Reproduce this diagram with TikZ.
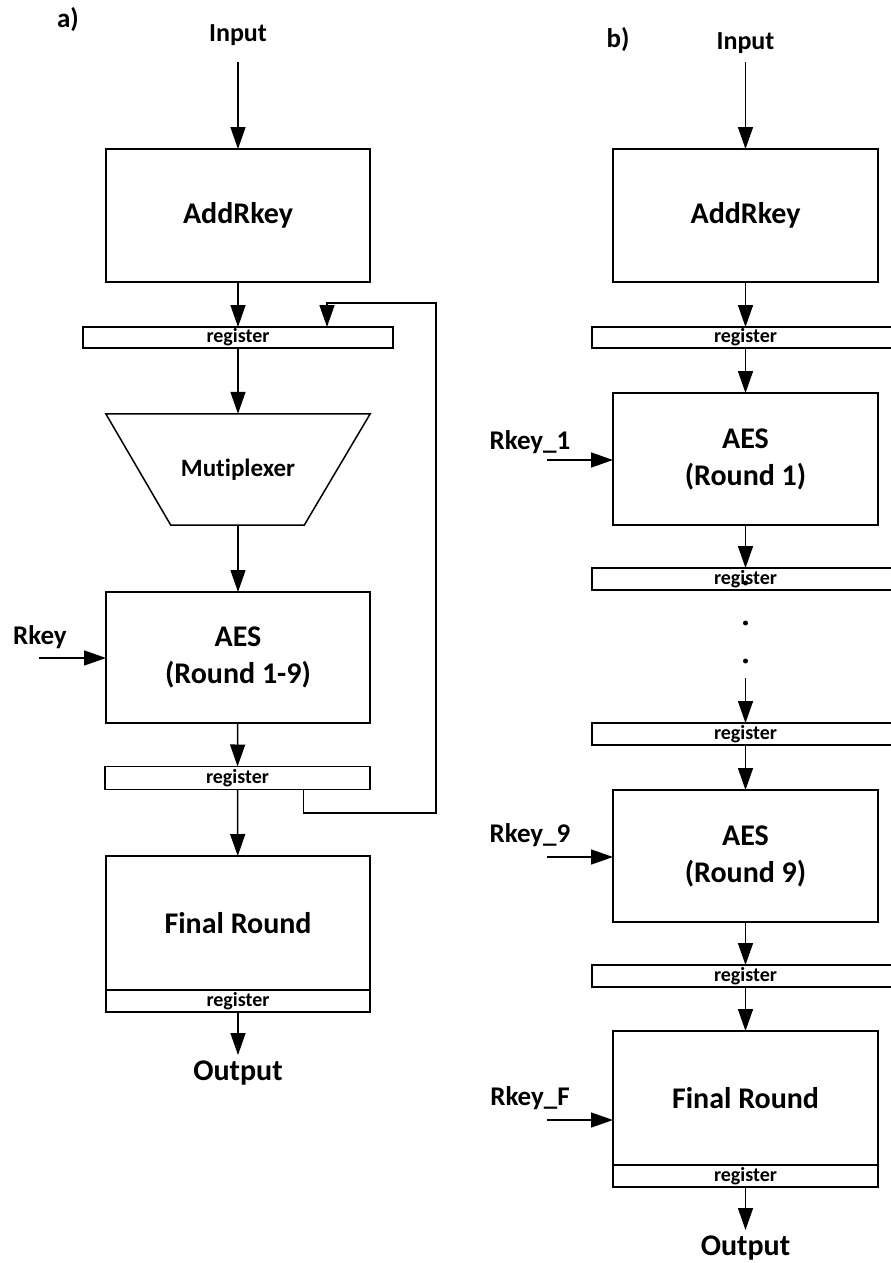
\documentclass[tikz,border=0pt]{standalone}
\usepackage{fontspec}
\setmainfont[Ligatures=NoCommon]{Carlito}
\usepackage{tikz}
\usetikzlibrary{positioning,calc}
\usetikzlibrary{arrows.meta}
\newcommand{\stagefont}{\bfseries\fontsize{30}{37}\selectfont}
\newcommand{\muxfont}{\bfseries\fontsize{25}{30}\selectfont}
\newcommand{\regfont}{\bfseries\fontsize{20}{24}\selectfont}
\newcommand{\keyfont}{\bfseries\fontsize{27}{32}\selectfont}
\newcommand{\iofont}{\bfseries\fontsize{26}{31}\selectfont}
\newcommand{\outfont}{\bfseries\fontsize{30}{36}\selectfont}
\tikzstyle{stage} = [rectangle, draw=black, line width=1.5pt, outer sep=0pt,
text centered, align=center, font=\stagefont]
\tikzstyle{register} = [rectangle, draw=black, line width=1.5pt, outer sep=0pt,
inner sep=0pt, minimum height=22pt, font=\regfont]
\tikzstyle{arrow} = [line width=1.5pt,-{Triangle[length=22pt,width=15pt]}]

\begin{document}
\begin{tikzpicture}[x=1pt,y=-1pt]
\useasboundingbox (0,0) rectangle (891,1263);
% a) iterative version
\node (labA) at (68,20) [font=\keyfont] {a)};
\node (inA) at (238,35) [font=\iofont] {Input};
\coordinate (inAend) at (238,62);
\node (addA) at (238,215.5) [stage, minimum width=264pt, minimum height=133pt] {AddRkey};
\node (rA1) at (238,337.5) [register, minimum width=310pt, minimum height=21pt] {register};
\node (mux) at (238,469.5) [minimum width=264pt, minimum height=111pt, font=\muxfont] {Mutiplexer};
\draw[line width=1.5pt] (mux.north west) -- (mux.north east) -- ($(mux.south east)+(-66,0)$)
  -- ($(mux.south west)+(65,0)$) -- cycle;
\node (aesA) at (238,657.5) [stage, minimum width=264pt, minimum height=131pt] {AES\\(Round 1-9)};
\node (keyA) at (40,637) [font=\keyfont] {Rkey};
\coordinate (keyAst) at (39,658);
\node (rA2) at (237.5,778) [register, minimum width=265pt, minimum height=23pt] {register};
\node (frA) at (238,923) [stage, minimum width=264pt, minimum height=134pt] {Final Round};
\node (frAreg) [register, below=0pt of frA, minimum width=264pt] {register};
\coordinate (outAend) at (238,1055);
\node (outA) at (238,1073) [font=\outfont] {Output};
\coordinate (loopB) at (436,813);
\coordinate (loopT) at (436,303);

\draw[arrow] (inAend) -- (addA);
\draw[arrow] (addA) -- (rA1);
\draw[arrow] (rA1) -- (mux);
\draw[arrow] (mux) -- (aesA);
\draw[arrow] (keyAst) -- (keyAst -| aesA.west);
\draw[arrow] (aesA) -- (rA2);
\draw[arrow] (rA2) -- (frA);
\draw[arrow] ([xshift=66pt]rA2.south) |- (loopB) -- (loopT) -| ([xshift=89pt]rA1.north);
\draw[arrow] (frAreg.south) -- (outAend);

% b) unrolled version
\node (labB) at (618,40) [font=\keyfont] {b)};
\node (inB) at (745.5,43) [font=\iofont] {Input};
\coordinate (inBend) at (745.5,62);
\node (addB) at (745.5,215.5) [stage, minimum width=265pt, minimum height=133pt] {AddRkey};
\node (rB1) at (745.5,337.5) [register, minimum width=307pt, minimum height=21pt] {register};
\node (aesB1) at (745.5,459) [stage, minimum width=265pt, minimum height=132pt] {AES\\(Round 1)};
\node (key1) at (530,442) [font=\keyfont] {Rkey\_1};
\coordinate (key1st) at (547,460);
\node (rB2) at (745.5,579) [register, minimum width=307pt] {register};
\foreach \y in {583,623,661}
  \fill (745.5,\y) circle (2.5pt);
\coordinate (dotsend) at (745.5,678);
\node (rB3) at (745.5,734) [register, minimum width=307pt] {register};
\node (aesB9) at (745.5,856) [stage, minimum width=265pt, minimum height=132pt] {AES\\(Round 9)};
\node (key9) at (530,835) [font=\keyfont] {Rkey\_9};
\coordinate (key9st) at (547,857);
\node (rB4) at (745.5,976) [register, minimum width=307pt] {register};
\node (frB) at (745.5,1098) [stage, minimum width=265pt, minimum height=134pt] {Final Round};
\node (frBreg) [register, below=0pt of frB, minimum width=265pt] {register};
\node (keyF) at (530,1098) [font=\keyfont] {Rkey\_F};
\coordinate (keyFst) at (547,1120);
\coordinate (outBend) at (745.5,1230);
\node (outB) at (745.5,1248) [font=\outfont] {Output};

\draw[arrow] (inBend) -- (addB);
\draw[arrow] (addB) -- (rB1);
\draw[arrow] (rB1) -- (aesB1);
\draw[arrow] (key1st) -- (key1st -| aesB1.west);
\draw[arrow] (aesB1) -- (rB2);
\draw[arrow] (dotsend) -- (rB3);
\draw[arrow] (rB3) -- (aesB9);
\draw[arrow] (key9st) -- (key9st -| aesB9.west);
\draw[arrow] (aesB9) -- (rB4);
\draw[arrow] (rB4) -- (frB);
\draw[arrow] (keyFst) -- (keyFst -| frB.west);
\draw[arrow] (frBreg.south) -- (outBend);
\end{tikzpicture}
\end{document}
